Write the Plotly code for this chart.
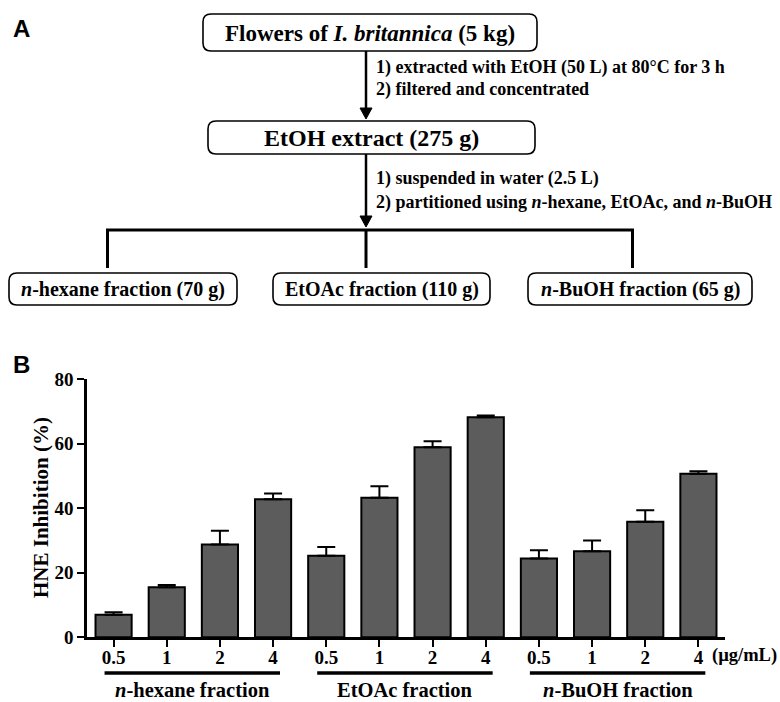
import plotly.graph_objects as go

# ---------------- data ----------------
groups = ["<i>n</i>-hexane fraction", "EtOAc fraction", "<i>n</i>-BuOH fraction"]
doses = ["0.5", "1", "2", "4"]
hexane_mean = [7.0, 15.5, 28.8, 42.8]
hexane_err = [0.8, 0.7, 4.2, 1.8]
etoac_mean = [25.3, 43.3, 58.9, 68.2]
etoac_err = [2.7, 3.5, 1.9, 0.6]
buoh_mean = [24.4, 26.7, 35.8, 50.7]
buoh_err = [2.6, 3.3, 3.6, 0.8]
y_ticks = [0, 20, 40, 60, 80]

means = hexane_mean + etoac_mean + buoh_mean
errs = hexane_err + etoac_err + buoh_err
xpos = list(range(len(means)))
ticktext = doses * len(groups)

# ---------------- helpers ----------------
W, H = 780, 702
SERIF = "Liberation Serif"
SANS = "Liberation Sans"


def X(px):
    return px / W


def Y(py):
    return 1 - py / H


def rrect(x0, y0, x1, y1, r=8):
    pts = [
        f"M {X(x0 + r)},{Y(y0)}",
        f"L {X(x1 - r)},{Y(y0)}",
        f"Q {X(x1)},{Y(y0)} {X(x1)},{Y(y0 + r)}",
        f"L {X(x1)},{Y(y1 - r)}",
        f"Q {X(x1)},{Y(y1)} {X(x1 - r)},{Y(y1)}",
        f"L {X(x0 + r)},{Y(y1)}",
        f"Q {X(x0)},{Y(y1)} {X(x0)},{Y(y1 - r)}",
        f"L {X(x0)},{Y(y0 + r)}",
        f"Q {X(x0)},{Y(y0)} {X(x0 + r)},{Y(y0)}",
        "Z",
    ]
    return dict(type="path", xref="paper", yref="paper", path=" ".join(pts),
                line=dict(color="black", width=1.6), fillcolor="white", layer="above")


def line(x0, y0, x1, y1, w=2.5):
    return dict(type="line", xref="paper", yref="paper",
                x0=X(x0), y0=Y(y0), x1=X(x1), y1=Y(y1),
                line=dict(color="black", width=w))


def arrowhead(x, ytip, w=6, h=11):
    path = f"M {X(x - w)},{Y(ytip - h)} L {X(x + w)},{Y(ytip - h)} L {X(x)},{Y(ytip)} Z"
    return dict(type="path", xref="paper", yref="paper", path=path,
                fillcolor="black", line=dict(color="black", width=1))


def text(x, y, s, size, xanchor="center", family=SERIF, angle=0):
    return dict(x=X(x), y=Y(y), xref="paper", yref="paper", text=s, showarrow=False,
                xanchor=xanchor, yanchor="middle", textangle=angle,
                font=dict(family=family, size=size, color="black", weight="bold"))


# ---------------- figure ----------------
fig = go.Figure()
fig.add_trace(go.Bar(
    x=xpos, y=means, width=0.68,
    marker=dict(color="#5c5c5c", line=dict(color="black", width=2)),
    error_y=dict(type="data", symmetric=False, array=errs, arrayminus=[0] * len(errs),
                 color="black", thickness=2, width=9),
))

shapes = []
annotations = []

# Flowchart (panel A)
shapes.append(rrect(203, 14, 537, 51))
annotations.append(text(370, 33, "Flowers of <i>I. britannica</i> (5 kg)", 23))
shapes.append(line(366, 51, 366, 108))
shapes.append(arrowhead(366, 119))
annotations.append(text(374, 68, "1) extracted with EtOH (50 L) at 80°C for 3 h", 18, "left"))
annotations.append(text(374, 90, "2) filtered and concentrated", 18, "left"))

shapes.append(rrect(208, 121, 535, 154))
annotations.append(text(371.5, 138, "EtOH extract (275 g)", 24))
shapes.append(line(366, 154, 366, 216))
shapes.append(arrowhead(366, 227))
annotations.append(text(374, 178, "1) suspended in water (2.5 L)", 18, "left"))
annotations.append(text(374, 203,
                        "2) partitioned using <i>n</i>-hexane, EtOAc, and <i>n</i>-BuOH", 18, "left"))

shapes.append(line(106, 230, 634, 230, 3))
for bx in [107.5, 366, 632.5]:
    shapes.append(line(bx, 230, bx, 268, 3))

boxes = [(9, 237), (273, 490), (528, 752)]
box_labels = ["<i>n</i>-hexane fraction (70 g)", "EtOAc fraction (110 g)",
              "<i>n</i>-BuOH fraction (65 g)"]
for (x0, x1), lab in zip(boxes, box_labels):
    shapes.append(rrect(x0, 273, x1, 305))
    annotations.append(text((x0 + x1) / 2, 289.5, lab, 20))

# Panel letters
annotations.append(text(21, 28, "A", 24, family=SANS))
annotations.append(text(21, 364, "B", 24, family=SANS))

# Y-axis title
annotations.append(text(41, 508, "HNE Inhibition (%)", 21, angle=-90))

# Group underlines and labels (panel B)
n = len(doses)
for gi, g in enumerate(groups):
    a = gi * n - 0.17
    b = gi * n + n - 1 + 0.13
    shapes.append(dict(type="line", xref="x", yref="paper", x0=a, x1=b,
                       y0=Y(673), y1=Y(673), line=dict(color="black", width=3.5)))
    annotations.append(dict(x=(a + b) / 2, y=Y(690), xref="x", yref="paper", text=g,
                            showarrow=False, xanchor="center", yanchor="middle",
                            font=dict(family=SERIF, size=20.5, color="black", weight="bold")))

annotations.append(text(710, 655.5, "(µg/mL)", 18.5, "left"))

fig.update_layout(
    width=W, height=H, autosize=False,
    margin=dict(l=0, r=0, t=0, b=0, pad=0, autoexpand=False),
    paper_bgcolor="white", plot_bgcolor="white",
    showlegend=False,
    shapes=shapes, annotations=annotations,
    xaxis=dict(
        domain=[X(87), X(725)], range=[-0.5, 11.5], automargin=False,
        tickmode="array", tickvals=xpos, ticktext=ticktext,
        showline=True, linecolor="black", linewidth=2.5,
        ticks="outside", ticklen=7, tickwidth=2, tickcolor="black",
        ticklabelstandoff=-6,
        showgrid=False, zeroline=False,
        tickfont=dict(family=SERIF, size=19, color="black", weight="bold"),
    ),
    yaxis=dict(
        domain=[Y(637.3), Y(379.3)], range=[0, 80], automargin=False,
        tickmode="array", tickvals=y_ticks,
        showline=True, linecolor="black", linewidth=2.5,
        ticks="outside", ticklen=7, tickwidth=2, tickcolor="black",
        showgrid=False, zeroline=False,
        tickfont=dict(family=SERIF, size=19, color="black", weight="bold"),
    ),
)

fig.write_html("out.html",
               config={"displayModeBar": False, "responsive": False},
               post_script="document.body.style.margin='0';")
